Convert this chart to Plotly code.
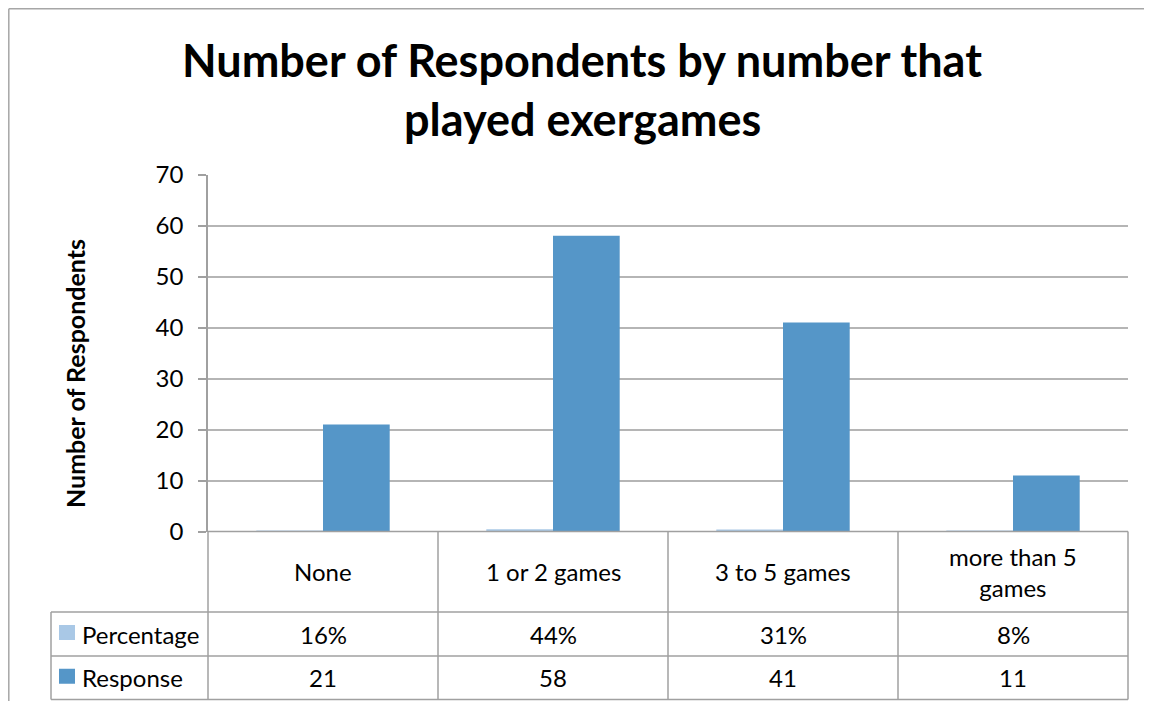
import plotly.graph_objects as go

OFF = 8  # page offset of the plot div
W, H = 1152 - 2 * OFF, 711 - 2 * OFF - 2

categories = ["None", "1 or 2 games", "3 to 5 games", "more than 5 games"]
category_labels = ["None", "1 or 2 games", "3 to 5 games", "more than 5<br>games"]
percentage = [0.16, 0.44, 0.31, 0.08]
percentage_labels = ["16%", "44%", "31%", "8%"]
response = [21, 58, 41, 11]
series_names = ["Percentage", "Response"]
title_lines = ["Number of Respondents by number that", "played exergames"]
y_title = "Number of Respondents"
y_ticks = [0, 10, 20, 30, 40, 50, 60, 70]

FONT = "Lato, Carlito, Calibri, sans-serif"
C_PCT = "#a9c8e6"
C_RESP = "#5596c8"
GRID = "#b5b5b5"
LINE = "#a0a0a0"


def px(x):
    return (x - OFF) / W


def py(y):
    return 1 - (y - OFF) / H


# layout geometry (screen pixels)
PL, PR = 208, 1128
PT, PB = 174.5, 531.5
row_y = [531.5, 612, 656, 699.5]
col_x = [PL + i * (PR - PL) / len(categories) for i in range(len(categories) + 1)]
legend_left = 51

fig = go.Figure()
fig.add_trace(go.Bar(x=categories, y=percentage, name=series_names[0],
                     marker=dict(color=C_PCT, line=dict(width=0))))
fig.add_trace(go.Bar(x=categories, y=response, name=series_names[1],
                     marker=dict(color=C_RESP, line=dict(width=0))))

shapes = []
# outer frame (top and left edges; the rest lies outside the picture)
shapes.append(dict(type="line", xref="paper", yref="paper",
                   x0=px(OFF + 0.8), x1=px(1200), y0=py(OFF + 0.8), y1=py(OFF + 0.8),
                   line=dict(color="#a6a6a6", width=1.5)))
shapes.append(dict(type="line", xref="paper", yref="paper",
                   x0=px(OFF + 0.8), x1=px(OFF + 0.8), y0=py(OFF + 0.8), y1=py(760),
                   line=dict(color="#a6a6a6", width=1.5)))
# table horizontal lines
for y in row_y:
    x0 = PL if y == row_y[0] else legend_left
    shapes.append(dict(type="line", xref="paper", yref="paper",
                       x0=px(x0), x1=px(PR), y0=py(y), y1=py(y),
                       line=dict(color=LINE, width=1.5)))
# table vertical lines
for x in col_x:
    shapes.append(dict(type="line", xref="paper", yref="paper",
                       x0=px(x), x1=px(x), y0=py(row_y[0]), y1=py(row_y[-1]),
                       line=dict(color=LINE, width=1.5)))
shapes.append(dict(type="line", xref="paper", yref="paper",
                   x0=px(legend_left), x1=px(legend_left), y0=py(row_y[1]), y1=py(row_y[-1]),
                   line=dict(color=LINE, width=1.5)))
# legend swatches
for i, c in enumerate([C_PCT, C_RESP]):
    yc = (row_y[i + 1] + row_y[i + 2]) / 2
    shapes.append(dict(type="rect", xref="paper", yref="paper",
                       x0=px(59), x1=px(75), y0=py(yc - 9), y1=py(yc + 6),
                       fillcolor=c, line=dict(width=0)))

annotations = []
for line, yc in zip(title_lines, [60, 119]):
    annotations.append(dict(text="<b>" + line + "</b>", xref="paper", yref="paper",
                            x=px(582), y=py(yc), xanchor="center", yanchor="middle",
                            showarrow=False, font=dict(family=FONT, size=45, color="#000000")))
annotations.append(dict(text="<b>" + y_title + "</b>", xref="paper", yref="paper",
                        x=px(75), y=py(374), xanchor="center", yanchor="middle",
                        textangle=-90, showarrow=False,
                        font=dict(family=FONT, size=25, color="#000000")))
for i in range(len(categories)):
    xc = (col_x[i] + col_x[i + 1]) / 2
    annotations.append(dict(text=category_labels[i], xref="paper", yref="paper",
                            x=px(xc), y=py((row_y[0] + row_y[1]) / 2), xanchor="center",
                            yanchor="middle", showarrow=False, align="center",
                            font=dict(family=FONT, size=24, color="#000000")))
    annotations.append(dict(text=percentage_labels[i], xref="paper", yref="paper",
                            x=px(xc), y=py((row_y[1] + row_y[2]) / 2), xanchor="center",
                            yanchor="middle", showarrow=False,
                            font=dict(family=FONT, size=24, color="#000000")))
    annotations.append(dict(text=str(response[i]), xref="paper", yref="paper",
                            x=px(xc), y=py((row_y[2] + row_y[3]) / 2), xanchor="center",
                            yanchor="middle", showarrow=False,
                            font=dict(family=FONT, size=24, color="#000000")))
for i, name in enumerate(series_names):
    annotations.append(dict(text=name, xref="paper", yref="paper",
                            x=px(80), y=py((row_y[i + 1] + row_y[i + 2]) / 2), xanchor="left",
                            yanchor="middle", showarrow=False,
                            font=dict(family=FONT, size=24, color="#000000")))

fig.update_layout(
    width=W, height=H,
    margin=dict(l=0, r=0, t=0, b=0, pad=0, autoexpand=False),
    paper_bgcolor="white", plot_bgcolor="white",
    showlegend=False,
    barmode="group", bargap=0.42, bargroupgap=0,
    xaxis=dict(domain=[px(PL), px(PR)], showticklabels=False, ticks="",
               showgrid=False, showline=False, zeroline=False, fixedrange=True,
               automargin=False),
    yaxis=dict(domain=[py(PB), py(PT)], range=[0, 70], tickvals=y_ticks,
               ticks="outside", ticklen=8, tickcolor=LINE, tickwidth=1.5,
               showline=True, linecolor=LINE, linewidth=1.5, automargin=False,
               showgrid=True, gridcolor=GRID, gridwidth=1.5, zeroline=False,
               tickfont=dict(family=FONT, size=24, color="#000000"), ticklabelstandoff=10),
    shapes=shapes,
    annotations=annotations,
)

fig.write_html("out.html")
